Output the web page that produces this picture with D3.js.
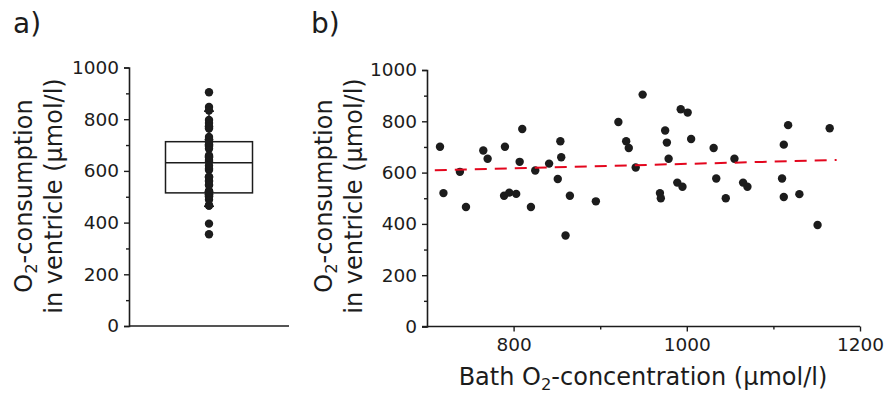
<!DOCTYPE html>
<html>
<head>
<meta charset="utf-8">
<script src="https://cdn.jsdelivr.net/npm/d3@7"></script>
<style>
  html, body { margin: 0; padding: 0; background: #fff; }
  svg { display: block; font-family: "DejaVu Sans", Verdana, sans-serif; }
</style>
</head>
<body>
<svg id="chart" width="889" height="394"></svg>
<script>
// Bath O2 concentration (µmol/l) for each preparation
const bathO2 = [715, 719, 738, 745, 765, 770, 790, 789, 795, 803,
                810, 807, 820, 825, 841, 854, 855, 851, 860, 865,
                895, 949, 921, 930, 933, 941, 993, 1001, 975, 977,
                1005, 979, 1031, 1034, 989, 995, 969, 970, 1055, 1045,
                1065, 1070, 1117, 1112, 1110, 1112, 1130, 1151, 1165];
// O2 consumption in ventricle (µmol/l), same order
const consumption = [701, 520, 603, 466, 686, 654, 701, 510, 522, 517,
                     770, 642, 466, 608, 635, 722, 660, 575, 355, 510,
                     488, 904, 797, 722, 696, 620, 847, 834, 764, 717,
                     731, 654, 696, 577, 561, 545, 520, 500, 654, 500,
                     561, 545, 785, 709, 577, 505, 516, 396, 773];

// Box plot summary: lower whisker, Q1, median, Q3, upper whisker
const boxStats = [463, 515, 632, 713, 831];
const boxGroup = ["all"];

// Linear trend line end points
const fitX = [709, 1173];
const fitY = [609, 649];

// Axis ticks
const yTicks = d3.range(0, 1001, 100);
const yLabels = [0, 200, 400, 600, 800, 1000];
const xTicks = [800, 900, 1000, 1100, 1200];
const xLabels = [800, 1000, 1200];

const svg = d3.select("#chart");
const ink = "#1c1c1c";
const tickFont = 18.5;
const titleFont = 24;
const dotR = 4.2;

function styleAxis(g) {
  g.select(".domain").attr("stroke", ink).attr("stroke-width", 1.6);
  g.selectAll(".tick line").attr("stroke", ink).attr("stroke-width", 1.4);
  g.selectAll(".tick text").attr("fill", ink).attr("font-size", tickFont)
    .attr("font-family", "DejaVu Sans, Verdana, sans-serif");
}

function yAxis(scale) {
  return d3.axisLeft(scale).tickValues(yTicks).tickSizeOuter(0)
    .tickSize(5).tickPadding(5)
    .tickFormat(d => yLabels.includes(d) ? d : "");
}

function shortenMinor(g, labels, attr) {
  g.selectAll(".tick").filter(d => !labels.includes(d))
    .select("line").attr(attr, attr === "x2" ? -3 : 3);
}

function yTitle(x, yc) {
  const t = svg.append("text")
    .attr("transform", `translate(${x},${yc}) rotate(-90)`)
    .attr("text-anchor", "middle").attr("fill", ink).attr("font-size", titleFont);
  const l1 = t.append("tspan").attr("x", 0).attr("y", 0);
  l1.append("tspan").text("O");
  l1.append("tspan").attr("font-size", titleFont * 0.68).attr("dy", 5).text("2");
  l1.append("tspan").attr("dy", -5).text("-consumption");
  t.append("tspan").attr("x", 0).attr("y", 29.5).text("in ventricle (µmol/l)");
}

// Panel labels
svg.append("text").attr("x", 13).attr("y", 33).attr("font-size", 28).attr("fill", ink).text("a)");
svg.append("text").attr("x", 311).attr("y", 33).attr("font-size", 28).attr("fill", ink).text("b)");

// ---------- Panel a: box plot with all values ----------
const ya = d3.scaleLinear().domain([0, 1000]).range([326, 67.5]);
const xa = d3.scalePoint().domain(boxGroup).range([129, 289]).padding(0.5);
const boxHalf = 43.5, capHalf = 5;

const ga = svg.append("g").attr("transform", "translate(129,0)").call(yAxis(ya));
shortenMinor(ga, yLabels, "x2");
styleAxis(ga);
svg.append("line").attr("x1", 129).attr("x2", 289).attr("y1", ya(0)).attr("y2", ya(0))
  .attr("stroke", ink).attr("stroke-width", 1.6);

const cx = xa("all");
const [wLo, q1, med, q3, wHi] = boxStats;
const box = svg.append("g").attr("stroke", ink).attr("stroke-width", 1.5).attr("fill", "none");
box.append("line").attr("x1", cx).attr("x2", cx).attr("y1", ya(wHi)).attr("y2", ya(q3));
box.append("line").attr("x1", cx).attr("x2", cx).attr("y1", ya(q1)).attr("y2", ya(wLo));
box.append("rect").attr("x", cx - boxHalf).attr("width", boxHalf * 2)
  .attr("y", ya(q3)).attr("height", ya(q1) - ya(q3));
box.append("line").attr("x1", cx - boxHalf).attr("x2", cx + boxHalf).attr("y1", ya(med)).attr("y2", ya(med));
[wLo, wHi].forEach(v => box.append("line").attr("x1", cx - capHalf).attr("x2", cx + capHalf)
  .attr("y1", ya(v)).attr("y2", ya(v)));

svg.append("g").selectAll("circle").data(consumption).join("circle")
  .attr("cx", cx).attr("cy", d => ya(d)).attr("r", dotR).attr("fill", ink);

yTitle(32, 196);

// ---------- Panel b: scatter with trend ----------
const xb = d3.scaleLinear().domain([700, 1200]).range([427, 860]);
const yb = d3.scaleLinear().domain([0, 1000]).range([326.5, 70]);

const gby = svg.append("g").attr("transform", "translate(427,0)").call(yAxis(yb));
shortenMinor(gby, yLabels, "x2");
styleAxis(gby);

const gbx = svg.append("g").attr("transform", `translate(0,${yb(0)})`)
  .call(d3.axisBottom(xb).tickValues(xTicks).tickSizeOuter(0).tickSize(5).tickPadding(6)
    .tickFormat(d => xLabels.includes(d) ? d : ""));
shortenMinor(gbx, xLabels, "y2");
styleAxis(gbx);
// extend the x axis line to meet the y axis
gbx.select(".domain").attr("d", `M${xb(700)},0H${xb(1200)}`);
// short stub of the zero tick left of the y axis
svg.append("line").attr("x1", 422).attr("x2", 427).attr("y1", yb(0)).attr("y2", yb(0))
  .attr("stroke", ink).attr("stroke-width", 1.4);

svg.append("g").selectAll("circle").data(bathO2).join("circle")
  .attr("cx", d => xb(d)).attr("cy", (d, i) => yb(consumption[i])).attr("r", dotR).attr("fill", ink);

svg.append("line")
  .attr("x1", xb(fitX[0])).attr("y1", yb(fitY[0]))
  .attr("x2", xb(fitX[1])).attr("y2", yb(fitY[1]))
  .attr("stroke", "#e3061d").attr("stroke-width", 2).attr("stroke-dasharray", "12,8");

yTitle(332, 196);

const xt = svg.append("text").attr("x", 643).attr("y", 385).attr("text-anchor", "middle")
  .attr("font-size", titleFont).attr("fill", ink);
xt.append("tspan").text("Bath O");
xt.append("tspan").attr("font-size", titleFont * 0.68).attr("dy", 5).text("2");
xt.append("tspan").attr("dy", -5).text("-concentration (µmol/l)");
</script>
</body>
</html>
